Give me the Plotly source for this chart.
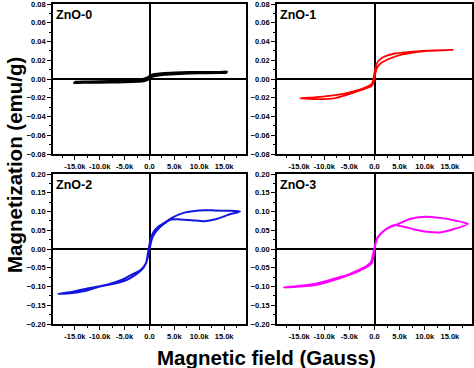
import plotly.graph_objects as go

# ---- data (field in Gauss, magnetization in emu/g) ----
zno0_h = [15400, 12000, 8000, 5000, 2500, 1000, 300, 0, -500, -1500, -3000, -6000, -10000, -15000,
          -12000, -8000, -5000, -2500, -1000, -300, 0, 500, 1500, 3000, 6000, 10000, 15400]
zno0_m = [0.0070, 0.0069, 0.0067, 0.0063, 0.0056, 0.0047, 0.0035, 0.0025, 0.0008, -0.0008, -0.0018, -0.0026, -0.0031, -0.0035,
          -0.0034, -0.0032, -0.0029, -0.0024, -0.0015, -0.0002, 0.0012, 0.0030, 0.0042, 0.0052, 0.0061, 0.0067, 0.0070]

zno1_h = [15600, 12000, 9000, 6000, 4000, 2000, 1000, 400, 0, -400, -1000, -2000, -4000, -6000, -9000, -12000, -14800,
          -13000, -11000, -8000, -5500, -3000, -1500, -600, -200, 100, 500, 1200, 2500, 5000, 8000, 11000, 15600]
zno1_m = [0.0310, 0.0305, 0.0298, 0.0285, 0.0272, 0.0240, 0.0205, 0.0160, 0.0070, -0.0040, -0.0070, -0.0095, -0.0130, -0.0155, -0.0180, -0.0195, -0.0205,
          -0.0213, -0.0215, -0.0207, -0.0170, -0.0125, -0.0095, -0.0075, -0.0040, 0.0040, 0.0120, 0.0165, 0.0205, 0.0255, 0.0285, 0.0300, 0.0310]

zno2_h = [18200, 16000, 13000, 10000, 7000, 4500, 3000, 1800, 800, 200, -300, -700, -1800, -3500, -5500, -8500, -12000, -15500, -18400,
          -16000, -13000, -10000, -7000, -4500, -2500, -1200, -500, 0, 600, 1500, 2800, 4200, 6000, 8500, 11000, 13500, 16000, 18200]
zno2_m = [0.100, 0.102, 0.103, 0.103, 0.097, 0.083, 0.070, 0.060, 0.045, 0.025, -0.010, -0.038, -0.056, -0.068, -0.082, -0.095, -0.104, -0.114, -0.120,
          -0.118, -0.112, -0.100, -0.092, -0.082, -0.066, -0.050, -0.030, 0.000, 0.032, 0.050, 0.066, 0.078, 0.079, 0.077, 0.074, 0.080, 0.092, 0.100]

zno3_h = [18600, 16000, 13000, 10000, 7000, 4600, 3000, 1800, 900, 300, -200, -700, -1500, -3000, -5400, -8500, -12000, -15500, -18000,
          -15000, -12000, -8500, -5400, -3000, -1500, -700, -300, 0, 500, 1200, 2600, 4000, 5600, 8000, 10500, 12900, 15500, 18600]
zno3_m = [0.067, 0.076, 0.083, 0.086, 0.080, 0.066, 0.058, 0.048, 0.036, 0.020, -0.008, -0.035, -0.045, -0.055, -0.069, -0.081, -0.093, -0.099, -0.103,
          -0.100, -0.097, -0.085, -0.071, -0.058, -0.048, -0.040, -0.028, 0.000, 0.028, 0.040, 0.056, 0.064, 0.060, 0.052, 0.046, 0.044, 0.052, 0.067]

names = ["ZnO-0", "ZnO-1", "ZnO-2", "ZnO-3"]
colors = ["#000000", "#FF0000", "#1515E0", "#FF00FF"]
widths = [3.2, 1.8, 2.0, 2.0]

x_tickvals = [-15000, -10000, -5000, 0, 5000, 10000, 15000]
x_ticktext = ["-15.0k", "-10.0k", "-5.0k", "0.0", "5.0k", "10.0k", "15.0k"]
y_top_ticks = [-0.08, -0.06, -0.04, -0.02, 0.00, 0.02, 0.04, 0.06, 0.08]
y_bot_ticks = [-0.20, -0.15, -0.10, -0.05, 0.00, 0.05, 0.10, 0.15, 0.20]

W, H = 474, 368
xdom = [[53 / W, 246 / W], [277 / W, 472 / W]]
ydom = [[1 - 154 / H, 1 - 4 / H], [1 - 324 / H, 1 - 174 / H]]

series = [(zno0_h, zno0_m), (zno1_h, zno1_m), (zno2_h, zno2_m), (zno3_h, zno3_m)]

fig = go.Figure()
tickfont = dict(family="Liberation Sans", size=7.5, color="black", weight="bold")

for i, (hx, my) in enumerate(series):
    row, col = divmod(i, 2)
    xa = "x" if i == 0 else f"x{i+1}"
    ya = "y" if i == 0 else f"y{i+1}"
    fig.add_trace(go.Scatter(x=hx, y=my, mode="lines", xaxis=xa, yaxis=ya,
                             line=dict(color=colors[i], width=widths[i], shape="spline", smoothing=0.6),
                             showlegend=False, hoverinfo="skip"))
    yticks = y_top_ticks if row == 0 else y_bot_ticks
    yr = [-0.08, 0.08] if row == 0 else [-0.20, 0.20]
    xkey = "xaxis" if i == 0 else f"xaxis{i+1}"
    ykey = "yaxis" if i == 0 else f"yaxis{i+1}"
    fig.layout[xkey] = dict(domain=xdom[col], range=[-19400, 19400], anchor=ya, automargin=False,
                            showline=True, mirror=True, linecolor="black", linewidth=1.8,
                            ticks="outside", ticklen=4, tickwidth=1.3, tickcolor="black",
                            tickvals=x_tickvals, ticktext=x_ticktext, tickfont=tickfont, tickangle=0,
                            ticklabeloverflow="allow",
                            minor=dict(ticks="outside", ticklen=2.5, tickwidth=1.1, tickcolor="black", dtick=2500, tick0=0),
                            showgrid=False, zeroline=True, zerolinecolor="black", zerolinewidth=2,
                            layer="above traces", fixedrange=True)
    fig.layout[ykey] = dict(domain=ydom[row], range=yr, anchor=xa, automargin=False,
                            showline=True, mirror=True, linecolor="black", linewidth=1.8,
                            ticks="outside", ticklen=4, tickwidth=1.3, tickcolor="black",
                            tickvals=yticks, tickformat=".2f", tickfont=tickfont,
                            ticklabeloverflow="allow",
                            minor=dict(ticks="outside", ticklen=2.5, tickwidth=1.1, tickcolor="black",
                                       dtick=(0.01 if row == 0 else 0.025), tick0=0),
                            showgrid=False, zeroline=True, zerolinecolor="black", zerolinewidth=2,
                            layer="above traces", fixedrange=True)
    fig.add_annotation(text=names[i], xref="paper", yref="paper",
                       x=xdom[col][0] + 1 / W, y=ydom[row][1] - 2 / H,
                       xanchor="left", yanchor="top", showarrow=False,
                       font=dict(family="Liberation Sans", size=12.5, color="black", weight="bold"))

fig.add_annotation(text="Magnetization (emu/g)", xref="paper", yref="paper",
                   x=14 / W, y=1 - 165 / H, textangle=-90, showarrow=False,
                   xanchor="center", yanchor="middle",
                   font=dict(family="Liberation Sans", size=20.5, color="black", weight="bold"))
fig.add_annotation(text="Magnetic field (Gauss)", xref="paper", yref="paper",
                   x=266 / W, y=1 - 357 / H, showarrow=False,
                   xanchor="center", yanchor="middle",
                   font=dict(family="Liberation Sans", size=20.5, color="black", weight="bold"))

fig.update_layout(width=W, height=H, margin=dict(l=0, r=0, t=0, b=0),
                  paper_bgcolor="white", plot_bgcolor="white")
fig.write_html("out.html", config={"displayModeBar": False},
               post_script="document.body.style.margin='0';document.body.style.padding='0';document.body.style.overflow='hidden';")
